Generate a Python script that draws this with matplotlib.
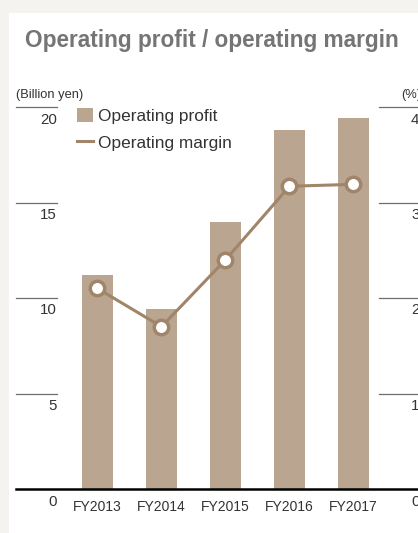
import numpy as np
from matplotlib import pyplot as plt
from matplotlib.patches import Patch, Rectangle
from matplotlib.lines import Line2D
import matplotlib.transforms as mtransforms

plt.rcParams['font.family'] = ['Liberation Sans', 'DejaVu Sans']

# 数据
years = ['FY2013', 'FY2014', 'FY2015', 'FY2016', 'FY2017']
profit = [11.2, 9.4, 14.0, 18.8, 19.4]      # Billion yen
margin = [2.10, 1.70, 2.40, 3.17, 3.19]     # %
left_ticks = [0, 5, 10, 15, 20]
right_ticks = [0, 1, 2, 3, 4]

bar_color = '#baa590'
line_color = '#a0856a'
text_color = '#333333'

W, H = 418, 533
fig = plt.figure(figsize=(W / 100, H / 100), dpi=100, facecolor='#f4f3ef')

# 白色面板
fig.patches.append(Rectangle((9 / W, 0), 1, (H - 13) / H, transform=fig.transFigure,
                             facecolor='white', edgecolor='none', zorder=-1))

# 坐标轴区域（像素换算）
ax_l, ax_r, ax_b, ax_t = 16, 418, 489, 107
ax = fig.add_axes([ax_l / W, (H - ax_b) / H, (ax_r - ax_l) / W, (ax_b - ax_t) / H])
ax.set_facecolor('none')

x = np.arange(len(years))
px_per_unit = 64
ax.set_xlim((ax_l - 97.5) / px_per_unit, (ax_r - 97.5) / px_per_unit)
ax.set_ylim(0, 20)

ax.bar(x, profit, width=31 / px_per_unit, color=bar_color, zorder=2)

ax2 = ax.twinx()
ax2.set_ylim(0, 4)
ax2.plot(x, margin, color=line_color, lw=2.2, marker='o', ms=10.4,
         mfc='white', mec=line_color, mew=2.5, zorder=3)

for a in (ax, ax2):
    for s in a.spines.values():
        s.set_visible(False)
    a.set_yticks([])
ax.spines['bottom'].set_visible(True)
ax.spines['bottom'].set_linewidth(1.8)
ax.spines['bottom'].set_color('black')
ax.spines['bottom'].set_zorder(4)

ax.set_xticks(x)
ax.set_xticklabels(years, fontsize=10, color=text_color)
ax.tick_params(axis='x', length=0, pad=8)

# 左右刻度线和标签
trans_l = mtransforms.blended_transform_factory(ax.transAxes, ax.transData)
trans_r = mtransforms.blended_transform_factory(ax.transAxes, ax2.transData)
lx = (57 - ax_l) / (ax_r - ax_l)
rx = (379 - ax_l) / (ax_r - ax_l)
for v in left_ticks:
    if v > 0:
        ax.plot([0, lx], [v, v], color='#6f6f6f', lw=0.9, transform=trans_l, clip_on=False)
    ax.annotate(str(v), (lx, v), xycoords=trans_l, xytext=(0, -9), textcoords='offset points',
                ha='right', va='center', fontsize=10.8, color=text_color)
for v in right_ticks:
    if v > 0:
        ax2.plot([rx, 1], [v, v], color='#6f6f6f', lw=0.9, transform=trans_r, clip_on=False)
    ax2.annotate(str(v), ((411 - ax_l) / (ax_r - ax_l), v), xycoords=trans_r, xytext=(0, -9),
                 textcoords='offset points', ha='left', va='center', fontsize=10.8, color=text_color)

# 单位
fig.text(16 / W, 1 - 95 / H, '(Billion yen)', fontsize=9.3, color=text_color, va='center', ha='left')
fig.text(401 / W, 1 - 95 / H, '(%)', fontsize=9.3, color=text_color, va='center', ha='left')

# 标题
fig.text(25 / W, 1 - 47 / H, 'Operating profit / operating margin', fontsize=16.3,
         fontweight='bold', color='#757575', va='baseline', ha='left')

# 图例
handles = [Patch(facecolor=bar_color, edgecolor='none'),
           Line2D([], [], color=line_color, lw=2.2)]
fig.legend(handles, ['Operating profit', 'Operating margin'], loc='upper left',
           bbox_to_anchor=(77 / W, 1 - 108 / H), frameon=False, fontsize=12.4,
           borderpad=0, borderaxespad=0, handlelength=0.92, handleheight=0.87,
           handletextpad=0.3, labelspacing=0.62, labelcolor=text_color)

plt.savefig('out.png', dpi=100, facecolor=fig.get_facecolor())
